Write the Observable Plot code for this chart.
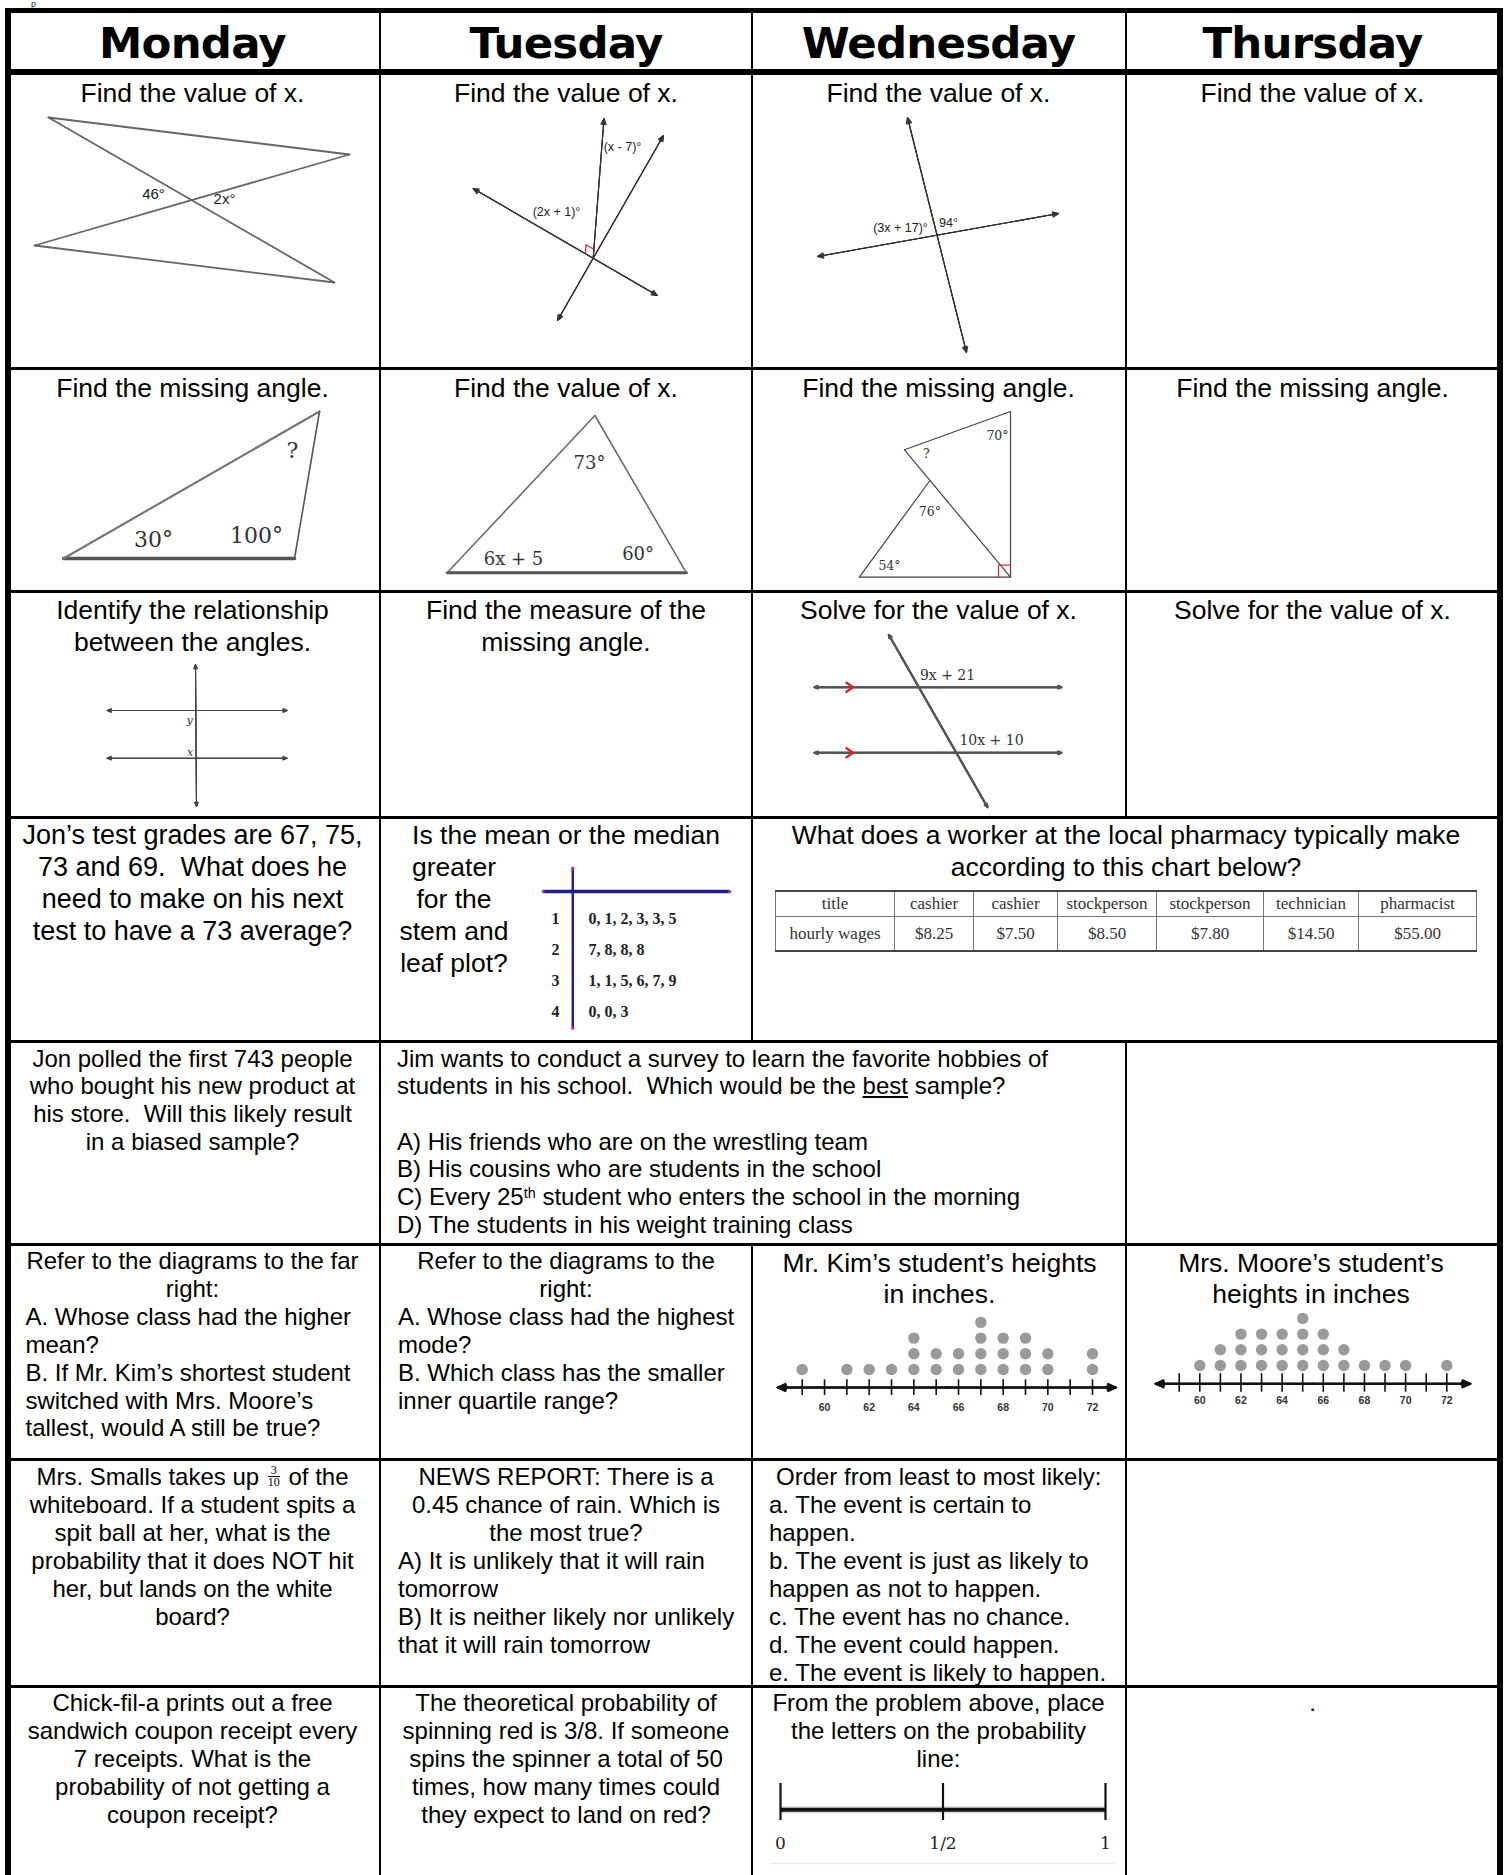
<!DOCTYPE html>
<html>
<head>
<meta charset="utf-8">
<script src="https://cdn.jsdelivr.net/npm/d3@7"></script>
<script src="https://cdn.jsdelivr.net/npm/@observablehq/plot@0.6"></script>
<style>
html,body{margin:0;padding:0;background:#fff;}
#page{position:relative;width:1507px;height:1875px;overflow:hidden;font-family:"Liberation Sans",Arial,sans-serif;color:#000;}
.abs{position:absolute;}
.ln{position:absolute;white-space:pre;}
.hd{position:absolute;font-family:"DejaVu Sans",sans-serif;font-weight:bold;font-size:43.5px;letter-spacing:-0.8px;text-align:center;white-space:nowrap;}
.frac{display:inline-block;vertical-align:middle;font-family:"Liberation Serif",serif;font-size:12px;line-height:11px;text-align:center;margin:0 2px;position:relative;top:-2px;}
.frac .num{display:block;border-bottom:1.4px solid #000;padding:0 1px;}
.frac .den{display:block;}
.wages{position:absolute;left:775px;top:890px;border-collapse:collapse;table-layout:fixed;width:701px;font-family:"Liberation Serif","Times New Roman",serif;font-size:17px;color:#333;}
.wages td{border:1px solid #777;text-align:center;padding:0;white-space:nowrap;}
.wages tr.h td{height:24px;border-top:2.5px solid #444;}
.wages tr.v td{height:33px;border-bottom:2.5px solid #444;}
sup{font-size:60%;vertical-align:top;position:relative;top:-3px;}
</style>
</head>
<body>
<div id="page"></div>
<script>
// ================= DATA =================
const days = ["Monday", "Tuesday", "Wednesday", "Thursday"];

// dot plots (height in inches -> number of students)
const kimHeights   = [59, 61, 62, 63, 64, 65, 66, 67, 68, 69, 70, 72];
const kimCounts    = [1, 1, 1, 1, 3, 2, 2, 4, 3, 3, 2, 2];
const mooreHeights = [60, 61, 62, 63, 64, 65, 66, 67, 68, 69, 70, 72];
const mooreCounts  = [1, 2, 3, 3, 3, 4, 3, 2, 1, 1, 1, 1];
const heightTicks  = [59, 60, 61, 62, 63, 64, 65, 66, 67, 68, 69, 70, 71, 72];
const heightLabels = [60, 62, 64, 66, 68, 70, 72];

// stem and leaf plot
const stems  = [1, 2, 3, 4];
const leaves = ["0, 1, 2, 3, 3, 5", "7, 8, 8, 8", "1, 1, 5, 6, 7, 9", "0, 0, 3"];

// pharmacy wages table
const wageHeader = ["title", "cashier", "cashier", "stockperson", "stockperson", "technician", "pharmacist"];
const wageRow    = ["hourly wages", "$8.25", "$7.50", "$8.50", "$7.80", "$14.50", "$55.00"];

// probability line
const probTicks  = [0, 0.5, 1];
const probLabels = ["0", "1/2", "1"];

// geometry figures (vertices in page pixels)
const bowtie   = [[48,117],[349,154],[34,245],[334,282]];
const tueLine1 = [[557,320],[663,135]];
const tueLine2 = [[472.6,188],[656.8,295]];
const tueRay   = [[592.7,257.7],[603.5,118]];
const wedLine1 = [[907,117],[966,352]];
const wedLine2 = [[817,256],[1058,213]];
const monTri   = [[63,558],[294,558],[319,411]];
const tueTri   = [[446.7,572.3],[685.9,572.3],[594.4,415]];
const wedFig   = {P:[1010,411], Q:[904,449.3], A:[929.4,480], BL:[858.8,576.7], BR:[1010,576.7]};
const monR3V   = [[195,664],[196,806]];
const monR3H   = [[[106.6,710],[286.7,710]], [[106.6,757.7],[286.7,757.7]]];
const wedR3T   = [[888.3,634.3],[987,806.7]];
const wedR3H   = [[[814,686.7],[1061,686.7]], [[814,752.3],[1061,752.3]]];
const sansLabels = [
  {t:"46°", x:153, y:194, fs:15}, {t:"2x°", x:224, y:199, fs:15},
  {t:"(x - 7)°", x:622, y:146, fs:12.5}, {t:"(2x + 1)°", x:556, y:211, fs:12.5},
  {t:"(3x + 17)°", x:900, y:227, fs:12.5}, {t:"94°", x:948, y:222, fs:12.5}
];
const serifLabels = [
  {t:"30°", x:153, y:539, fs:22}, {t:"100°", x:256, y:535, fs:22}, {t:"?", x:292, y:450, fs:22},
  {t:"73°", x:589, y:463, fs:18}, {t:"6x + 5", x:513, y:559, fs:18}, {t:"60°", x:637.6, y:554, fs:18},
  {t:"70°", x:997, y:435, fs:12.5}, {t:"?", x:925.8, y:453, fs:12.5}, {t:"76°", x:929.4, y:511.5, fs:12.5}, {t:"54°", x:889, y:565.5, fs:12.5},
  {t:"9x + 21", x:947, y:675.5, fs:14}, {t:"10x + 10", x:991, y:740.5, fs:14}
];
const italicLabels = [{t:"y", x:189, y:720, fs:11}, {t:"x", x:189.5, y:751.5, fs:11}];

// worksheet text
const L = (t, x) => ({t, x, left: true});
const cc = [192.5, 566, 938.5, 1312.5];
const cells = [
  // row 1
  ...[0,1,2,3].map(i => ({y:93, lh:32, fs:26.5, x:cc[i], lines:["Find the value of x."]})),
  // row 2
  {y:388, lh:32, fs:26.5, x:cc[0], lines:["Find the missing angle."]},
  {y:388, lh:32, fs:26.5, x:cc[1], lines:["Find the value of x."]},
  {y:388, lh:32, fs:26.5, x:cc[2], lines:["Find the missing angle."]},
  {y:388, lh:32, fs:26.5, x:cc[3], lines:["Find the missing angle."]},
  // row 3
  {y:610, lh:32, fs:26.5, x:cc[0], lines:["Identify the relationship", "between the angles."]},
  {y:610, lh:32, fs:26.5, x:cc[1], lines:["Find the measure of the", "missing angle."]},
  {y:610, lh:32, fs:26.5, x:cc[2], lines:["Solve for the value of x."]},
  {y:610, lh:32, fs:26.5, x:cc[3], lines:["Solve for the value of x."]},
  // row 4
  {y:835, lh:32, fs:27, x:cc[0], lines:["Jon’s test grades are 67, 75,", "73 and 69.  What does he", "need to make on his next", "test to have a 73 average?"]},
  {y:835, lh:32, fs:26.5, x:cc[1], lines:["Is the mean or the median"]},
  {y:867, lh:32, fs:26.5, x:454, lines:["greater", "for the", "stem and", "leaf plot?"]},
  {y:835, lh:32, fs:26.5, x:1126, lines:["What does a worker at the local pharmacy typically make", "according to this chart below?"]},
  // row 5
  {y:1058.5, lh:27.7, fs:24, x:cc[0], lines:["Jon polled the first 743 people", "who bought his new product at", "his store.  Will this likely result", "in a biased sample?"]},
  {y:1058.5, lh:27.7, fs:24, x:0, lines:[
    L("Jim wants to conduct a survey to learn the favorite hobbies of", 397),
    L("students in his school.  Which would be the <u>best</u> sample?", 397),
    null,
    L("A) His friends who are on the wrestling team", 397),
    L("B) His cousins who are students in the school", 397),
    L("C) Every 25<sup>th</sup> student who enters the school in the morning", 397),
    L("D) The students in his weight training class", 397)]},
  // row 6
  {y:1261, lh:27.9, fs:24, x:cc[0], lines:["Refer to the diagrams to the far", "right:",
    L("A. Whose class had the higher", 25.5), L("mean?", 25.5), L("B. If Mr. Kim’s shortest student", 25.5),
    L("switched with Mrs. Moore’s", 25.5), L("tallest, would A still be true?", 25.5)]},
  {y:1261, lh:27.9, fs:24, x:cc[1], lines:["Refer to the diagrams to the", "right:",
    L("A. Whose class had the highest", 398), L("mode?", 398), L("B. Which class has the smaller", 398),
    L("inner quartile range?", 398)]},
  {y:1263, lh:31, fs:26.5, x:939.5, lines:["Mr. Kim’s student’s heights", "in inches."]},
  {y:1263, lh:31, fs:26.5, x:1311, lines:["Mrs. Moore’s student’s", "heights in inches"]},
  // row 7
  {y:1477, lh:28, fs:24, x:cc[0], lines:[
    'Mrs. Smalls takes up <span class="frac"><span class="num">3</span><span class="den">10</span></span> of the',
    "whiteboard. If a student spits a", "spit ball at her, what is the", "probability that it does NOT hit",
    "her, but lands on the white", "board?"]},
  {y:1477, lh:28, fs:24, x:cc[1], lines:["NEWS REPORT: There is a", "0.45 chance of rain. Which is", "the most true?",
    L("A) It is unlikely that it will rain", 398), L("tomorrow", 398),
    L("B) It is neither likely nor unlikely", 398), L("that it will rain tomorrow", 398)]},
  {y:1477, lh:28, fs:24, x:0, lines:[L("Order from least to most likely:", 776),
    L("a. The event is certain to", 769), L("happen.", 769), L("b. The event is just as likely to", 769),
    L("happen as not to happen.", 769), L("c. The event has no chance.", 769),
    L("d. The event could happen.", 769), L("e. The event is likely to happen.", 769)]},
  // row 8
  {y:1703, lh:28, fs:24, x:cc[0], lines:["Chick-fil-a prints out a free", "sandwich coupon receipt every", "7 receipts. What is the", "probability of not getting a", "coupon receipt?"]},
  {y:1703, lh:28, fs:24, x:cc[1], lines:["The theoretical probability of", "spinning red is 3/8. If someone", "spins the spinner a total of 50", "times, how many times could", "they expect to land on red?"]},
  {y:1703, lh:28, fs:24, x:cc[2], lines:["From the problem above, place", "the letters on the probability", "line:"]},
  {y:1703, lh:28, fs:24, x:cc[3], lines:["."]}
];

// ================= LAYOUT =================
const page = document.getElementById("page");
const W = 1507, H = 1875;

function rect(x, y, w, h, color = "#000") {
  const d = document.createElement("div");
  d.className = "abs";
  Object.assign(d.style, {left: x + "px", top: y + "px", width: w + "px", height: h + "px", background: color});
  page.appendChild(d);
}
function mount(node, x, y, w, h) {
  const d = document.createElement("div");
  d.className = "abs";
  Object.assign(d.style, {left: x + "px", top: y + "px", width: w + "px", height: h + "px", pointerEvents: "none"});
  d.appendChild(node);
  page.appendChild(d);
}

// small glyph at the very top-left, above the table (drawn first, under the border)
{ const d = document.createElement("div"); d.className = "ln";
  Object.assign(d.style, {left: "31px", top: "0px", fontSize: "9px", lineHeight: "9px", height: "9px", color: "#333"});
  d.textContent = "p"; page.appendChild(d); }

// table grid
rect(5, 8, 1498, 4.5);            // top border
rect(5, 8, 6, H - 8);             // left border
rect(1497, 8, 6, H - 8);          // right border
rect(5, 69, 1498, 6);             // header bottom
[368.5, 591, 817.5, 1041, 1244.5, 1459.5, 1686.5].forEach(y => rect(5, y - 1.5, 1498, 3));
rect(379, 8, 2, H - 8);
rect(751, 8, 2, 1041 - 8); rect(751, 1244.5, 2, H - 1244.5);
rect(1125, 8, 2, 817.5 - 8); rect(1125, 1041, 2, H - 1041);

// headers
days.forEach((day, i) => {
  const d = document.createElement("div");
  d.className = "hd";
  Object.assign(d.style, {left: (cc[i] - 200) + "px", width: "400px", top: "17.5px", height: "50px", lineHeight: "50px"});
  d.textContent = day;
  page.appendChild(d);
});

// text lines
cells.forEach(c => {
  c.lines.forEach((ln, i) => {
    if (ln === null) return;
    const d = document.createElement("div");
    d.className = "ln";
    const o = typeof ln === "string" ? {t: ln, x: c.x, left: false} : ln;
    Object.assign(d.style, {fontSize: c.fs + "px", lineHeight: c.lh + "px", height: c.lh + "px", top: (c.y + i * c.lh - c.lh / 2) + "px"});
    if (o.left) d.style.left = o.x + "px";
    else { d.style.left = (o.x - 400) + "px"; d.style.width = "800px"; d.style.textAlign = "center"; }
    d.innerHTML = o.t;
    page.appendChild(d);
  });
});

// wages table
{
  const t = document.createElement("table");
  t.className = "wages";
  const widths = [119, 79, 84, 99, 107, 95, 118];
  t.innerHTML = "<colgroup>" + widths.map(w => `<col style="width:${w}px">`).join("") + "</colgroup>" +
    `<tr class="h">${wageHeader.map(s => `<td>${s}</td>`).join("")}</tr>` +
    `<tr class="v">${wageRow.map(s => `<td>${s}</td>`).join("")}</tr>`;
  page.appendChild(t);
}

// ================= GEOMETRY (Plot overlay) =================
const segs = [], arrows = [], redPts = [];
function seg(a, b, c, w) { segs.push({x1: a[0], y1: a[1], x2: b[0], y2: b[1], c, w}); }
function ray(a, b, c, w, hl) { arrows.push({x1: a[0], y1: a[1], x2: b[0], y2: b[1], c, w, hl}); }
function dbl(ab, c, w, hl) { const [a, b] = ab; const m = [(a[0] + b[0]) / 2, (a[1] + b[1]) / 2]; ray(m, a, c, w, hl); ray(m, b, c, w, hl); }
function unit(a, p) { const dx = a[0] - p[0], dy = a[1] - p[1], n = Math.hypot(dx, dy); return [dx / n, dy / n]; }
function rightMark(P, A, B, s, id) {
  const u = unit(A, P), v = unit(B, P);
  [[P[0] + s * u[0], P[1] + s * u[1]], [P[0] + s * (u[0] + v[0]), P[1] + s * (u[1] + v[1])], [P[0] + s * v[0], P[1] + s * v[1]]]
    .forEach(([x, y]) => redPts.push({x, y, id}));
}

// Monday row 1 bow-tie
bowtie.forEach((p, i) => seg(p, bowtie[(i + 1) % bowtie.length], "#666", 1.8));
// Tuesday row 1
dbl(tueLine1, "#333", 1.1, 9.5); dbl(tueLine2, "#333", 1.1, 9.5);
ray(tueRay[0], tueRay[1], "#333", 1.1, 9.5);
rightMark(tueRay[0], tueLine2[0], tueRay[1], 9, "r1");
// Wednesday row 1
dbl(wedLine1, "#333", 1.1, 9.5); dbl(wedLine2, "#333", 1.1, 9.5);
// Monday row 2
seg(monTri[0], monTri[1], "#555", 3.5); seg(monTri[0], monTri[2], "#777", 2.2); seg(monTri[1], monTri[2], "#555", 1.6);
// Tuesday row 2
seg(tueTri[0], tueTri[1], "#555", 3); seg(tueTri[0], tueTri[2], "#666", 1.5); seg(tueTri[1], tueTri[2], "#666", 1.5);
// Wednesday row 2
seg(wedFig.P, wedFig.Q, "#444", 1.2); seg(wedFig.Q, wedFig.BR, "#444", 1.2); seg(wedFig.P, wedFig.BR, "#444", 1.2);
seg(wedFig.A, wedFig.BL, "#444", 1.2); seg(wedFig.BL, wedFig.BR, "#444", 1.2);
rightMark(wedFig.BR, wedFig.BL, wedFig.P, 12, "r2");
// Monday row 3
dbl(monR3V, "#444", 1.1, 6.8); monR3H.forEach(h => dbl(h, "#444", 1.1, 6.8));
// Wednesday row 3
dbl(wedR3T, "#555", 2, 5.25); wedR3H.forEach(h => dbl(h, "#555", 2, 5.25));
const chevrons = [];
wedR3H.forEach((h, i) => { const y = h[0][1]; [[846, y - 4.5], [852.5, y], [846, y + 4.5]].forEach(([x, yy]) => chevrons.push({x, y: yy, id: "c" + i})); });

const arrowMarks = [];
for (const hl of [...new Set(arrows.map(d => d.hl))])
  for (const ang of [50, 34, 18])
    arrowMarks.push(Plot.arrow(arrows.filter(d => d.hl === hl), {x1: "x1", y1: "y1", x2: "x2", y2: "y2", stroke: "c", strokeWidth: "w", headLength: hl, headAngle: ang}));

const overlay = Plot.plot({
  width: W, height: H, margin: 0,
  x: {domain: [0, W], range: [0, W], axis: null},
  y: {domain: [0, H], range: [0, H], axis: null},
  color: {type: "identity"},
  style: {background: "transparent", overflow: "visible"},
  marks: [
    Plot.link(segs, {x1: "x1", y1: "y1", x2: "x2", y2: "y2", stroke: "c", strokeWidth: "w", strokeLinecap: "round"}),
    ...arrowMarks,
    Plot.line(redPts, {x: "x", y: "y", z: "id", stroke: "#d63030", strokeWidth: 1.3}),
    Plot.line(chevrons, {x: "x", y: "y", z: "id", stroke: "#e02020", strokeWidth: 2.4}),
    Plot.text(sansLabels, {x: "x", y: "y", text: "t", fontSize: "fs", fill: "#222", fontFamily: "Liberation Sans, Arial, sans-serif"}),
    Plot.text(serifLabels, {x: "x", y: "y", text: "t", fontSize: "fs", fill: "#333", fontFamily: "DejaVu Serif, serif"}),
    Plot.text(italicLabels, {x: "x", y: "y", text: "t", fontSize: "fs", fill: "#333", fontStyle: "italic", fontFamily: "DejaVu Serif, serif"})
  ]
});

// ================= DOT PLOTS =================
function dotPlot(values, counts, cfg) {
  const dots = values.flatMap((v, i) => d3.range(1, counts[i] + 1).map(k => ({v, k})));
  const lv = px => 1 + (cfg.base - px) / cfg.step;   // pixel row -> stack level
  const ya = lv(cfg.axis);
  const mid = (cfg.arrow[0] + cfg.arrow[1]) / 2;
  const axisArrows = [{x1: mid, x2: cfg.arrow[0]}, {x1: mid, x2: cfg.arrow[1]}];
  return Plot.plot({
    width: cfg.w, height: cfg.h, margin: 0,
    x: {domain: [59, 72], range: cfg.xr, axis: null},
    y: {domain: [1, 5], range: [cfg.base, cfg.base - 4 * cfg.step], axis: null},
    style: {background: "transparent", overflow: "visible"},
    marks: [
      ...[50, 32, 16].map(a => Plot.arrow(axisArrows, {x1: "x1", x2: "x2", y1: ya, y2: ya, stroke: "#111", strokeWidth: 2, headLength: 6.5, headAngle: a})),
      Plot.ruleX(heightTicks, {x: d => d, y1: lv(cfg.tick[0]), y2: lv(cfg.tick[1]), stroke: "#111", strokeWidth: 1.6}),
      Plot.text(heightLabels, {x: d => d, y: lv(cfg.label), text: d => String(d), fontSize: 10.5, fontWeight: "bold", fill: "#333", fontFamily: "Liberation Sans, Arial, sans-serif"}),
      Plot.dot(dots, {x: "v", y: "k", r: 5.7, fill: "#9a9a9a"})
    ]
  });
}
mount(dotPlot(kimHeights, kimCounts, {w: 350, h: 120, xr: [31.7, 322], base: 69, step: 15.7, axis: 87, tick: [79.3, 95], label: 107, arrow: [57.9, 73.05]}), 770, 1300, 350, 120);
mount(dotPlot(mooreHeights, mooreCounts, {w: 350, h: 120, xr: [38.7, 306.3], base: 65, step: 15.7, axis: 83.3, tick: [73.3, 91.7], label: 100, arrow: [57.85, 73.15]}), 1140, 1300, 350, 120);

// ================= STEM AND LEAF =================
{
  const base = 58.3, step = 30.9;
  const lv = px => 1 + (px - base) / step;
  const navy = "#1f1f8f";
  const sl = Plot.plot({
    width: 215, height: 175, margin: 0,
    x: {domain: [0, 215], range: [0, 215], axis: null},
    y: {domain: [1, 4], range: [base, base + 3 * step], axis: null},
    style: {background: "transparent", overflow: "visible"},
    marks: [
      Plot.ruleX([42.3], {y1: lv(7.7), y2: lv(167.7), stroke: navy, strokeWidth: 2.5}),
      Plot.ruleY([lv(31)], {x1: 12.7, x2: 199.3, stroke: navy, strokeWidth: 3.5}),
      Plot.dot([[42.3, lv(7.7)], [42.3, lv(167.7)], [12.7, lv(31)], [199.3, lv(31)]], {x: d => d[0], y: d => d[1], r: 1.6, fill: "#e03050"}),
      Plot.text(stems, {x: 25, y: d => d, text: d => String(d), fontSize: 16, fontWeight: "bold", fill: "#222", fontFamily: "Liberation Serif, serif"}),
      Plot.text(leaves, {x: 58, y: (d, i) => stems[i], text: d => d, textAnchor: "start", fontSize: 16, fontWeight: "bold", fill: "#222", fontFamily: "Liberation Serif, serif"})
    ]
  });
  mount(sl, 530, 860, 215, 175);
}

// ================= PROBABILITY LINE =================
{
  const pl = Plot.plot({
    width: 360, height: 100, margin: 0,
    x: {domain: [0, 1], range: [20, 345], axis: null},
    y: {domain: [0, 100], range: [0, 100], axis: null},
    style: {background: "transparent", overflow: "visible"},
    marks: [
      Plot.ruleY([93], {x1: -0.03, x2: 1.03, stroke: "#eaeaea", strokeWidth: 1.5}),
      Plot.ruleY([39.3], {x1: 0, x2: 1, stroke: "#bbb", strokeWidth: 7, strokeOpacity: 0.5}),
      Plot.ruleY([39.3], {x1: 0, x2: 1, stroke: "#111", strokeWidth: 4}),
      Plot.ruleX(probTicks, {x: d => d, y1: 13, y2: 50, stroke: "#111", strokeWidth: 2.2}),
      Plot.text(probTicks, {x: d => d, y: 73, text: (d, i) => probLabels[i], fontSize: 17, fill: "#222", fontFamily: "DejaVu Serif, serif"})
    ]
  });
  mount(pl, 760, 1770, 360, 100);
}

mount(overlay, 0, 0, W, H);
</script>
</body>
</html>
